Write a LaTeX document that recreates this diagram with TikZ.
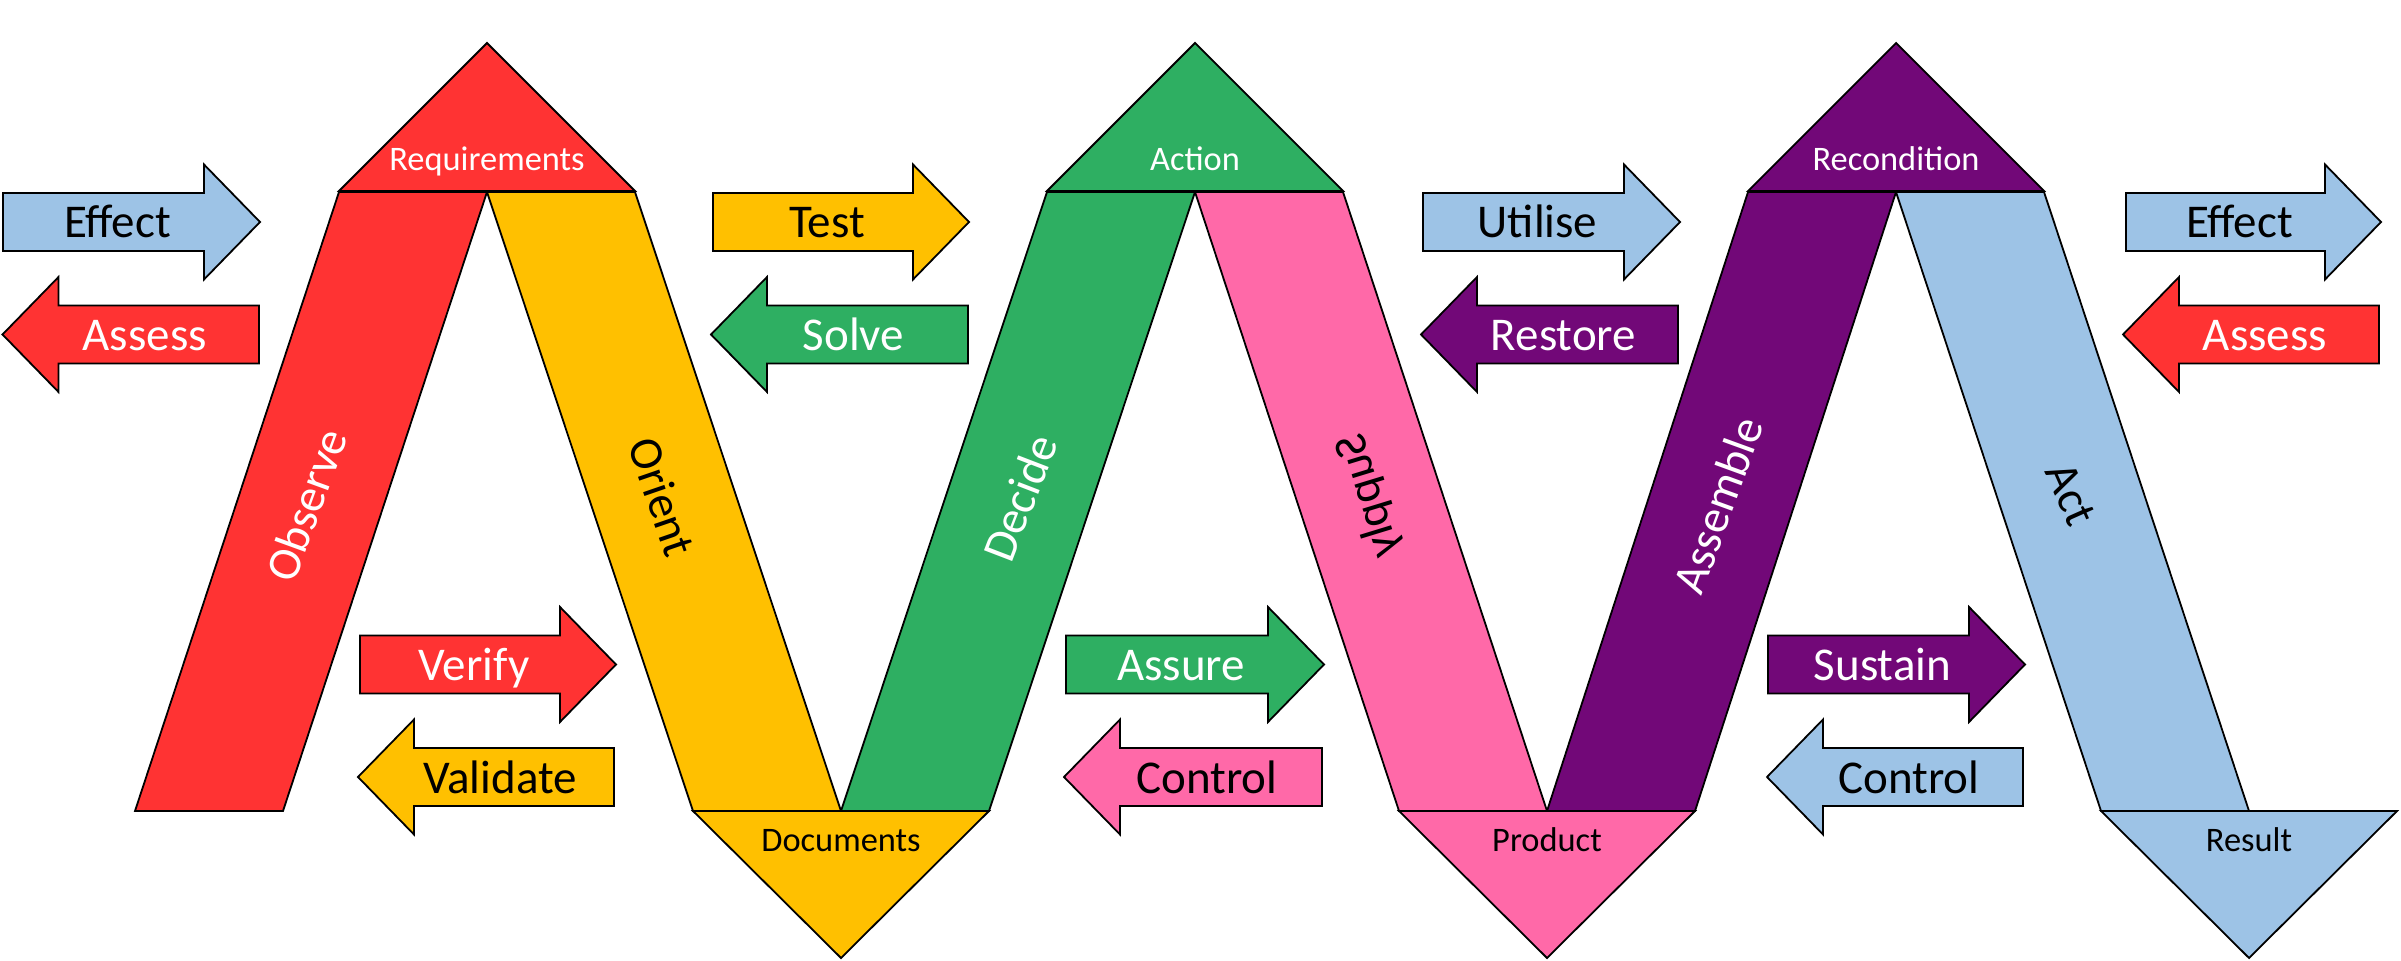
\documentclass[tikz,border=0pt]{standalone}
\usepackage{fontspec}
\setmainfont{Carlito}
\definecolor{cred}{RGB}{255,51,51}
\definecolor{cyel}{RGB}{255,192,0}
\definecolor{cgrn}{RGB}{46,175,98}
\definecolor{cpnk}{RGB}{255,105,168}
\definecolor{cpur}{RGB}{114,8,120}
\definecolor{cblu}{RGB}{157,195,230}
\tikzset{
  outl/.style={draw=black, line width=0.9pt, line join=miter},
  arrtxt/.style={anchor=base, inner sep=0pt, font=\fontsize{23.5}{28}\selectfont},
  bandtxt/.style={anchor=center, inner sep=0pt, font=\fontsize{23.5}{28}\selectfont},
  tritxt/.style={anchor=base, inner sep=0pt, font=\fontsize{17.2}{20}\selectfont}
}
% right arrow: xL, xTip, yc, fill, textcolor, name, text
\newcommand\RArr[7]{%
  \path[outl, fill=#4] (#1,#3-29) -- (#2-56,#3-29) -- (#2-56,#3-57.5) -- (#2,#3)
     -- (#2-56,#3+57.5) -- (#2-56,#3+29) -- (#1,#3+29) -- cycle;
  \node[arrtxt, text=#5] (#6) at ({(#1+#2)/2-14},{#3+16}) {#7};}
% left arrow: xTip, xR, yc, fill, textcolor, name, text
\newcommand\LArr[7]{%
  \path[outl, fill=#4] (#1,#3) -- (#1+56,#3-57.5) -- (#1+56,#3-29) -- (#2,#3-29)
     -- (#2,#3+29) -- (#1+56,#3+29) -- (#1+56,#3+57.5) -- cycle;
  \node[arrtxt, text=#5] (#6) at ({(#1+#2)/2+14},{#3+16}) {#7};}
\begin{document}
\begin{tikzpicture}[x=0.5pt, y=-0.5pt]
\useasboundingbox (0,0) rectangle (2401,961);
\fill[white] (0,0) rectangle (2401,961);

% ---- bands ----
\path[outl, fill=cred] (339,192) -- (487,192) -- (283,811) -- (135,811) -- cycle;
\path[outl, fill=cyel] (487,192) -- (635,192) -- (841,811) -- (693,811) -- cycle;
\path[outl, fill=cgrn] (1047,192) -- (1195,192) -- (989,811) -- (841,811) -- cycle;
\path[outl, fill=cpnk] (1195,192) -- (1343,192) -- (1547,811) -- (1399,811) -- cycle;
\path[outl, fill=cpur] (1748,192) -- (1896,192) -- (1695,811) -- (1547,811) -- cycle;
\path[outl, fill=cblu] (1896,192) -- (2044,192) -- (2249,811) -- (2101,811) -- cycle;

% ---- top triangles ----
\path[outl, fill=cred] (487,43) -- (635,191) -- (339,191) -- cycle;
\path[outl, fill=cgrn] (1195,43) -- (1343,191) -- (1047,191) -- cycle;
\path[outl, fill=cpur] (1896,43) -- (2044,191) -- (1748,191) -- cycle;

% ---- bottom triangles ----
\path[outl, fill=cyel] (693,811) -- (989,811) -- (841,958) -- cycle;
\path[outl, fill=cpnk] (1399,811) -- (1695,811) -- (1547,958) -- cycle;
\path[outl, fill=cblu] (2101,811) -- (2397,811) -- (2249,958) -- cycle;

% ---- triangle labels ----
\node[tritxt, text=white] (req) at (487,171) {Requirements};
\node[tritxt, text=white] (act) at (1195,171) {Action};
\node[tritxt, text=white] (rec) at (1896,171) {Recondition};
\node[tritxt, text=black] (doc) at (841,851) {Documents};
\node[tritxt, text=black] (prod) at (1547,851) {Product};
\node[tritxt, text=black] (res) at (2249,851) {Result};

% ---- band labels ----
\node[bandtxt, text=white, rotate=70] (obs) at (306,505) {Observe};
\node[bandtxt, text=black, rotate=-71] (ori) at (662,497) {Orient};
\node[bandtxt, text=white, rotate=69] (dec) at (1020,498) {Decide};
\node[bandtxt, text=black, rotate=-73, yscale=-1] (sup) at (1369,496) {Supply};
\node[bandtxt, text=white, rotate=70] (ass) at (1718,505) {Assemble};
\node[bandtxt, text=black, rotate=-66] (actb) at (2071,494) {Act};

% ---- block arrows ----
\RArr{3}{260}{222}{cblu}{black}{eff1}{Effect}
\LArr{2.5}{259}{334.5}{cred}{white}{ass1}{Assess}
\RArr{713}{969}{222}{cyel}{black}{test}{Test}
\LArr{711}{968}{334.5}{cgrn}{white}{solve}{Solve}
\RArr{1423}{1680}{222}{cblu}{black}{util}{Utilise}
\LArr{1421}{1678}{334.5}{cpur}{white}{rest}{Restore}
\RArr{2126}{2381}{222}{cblu}{black}{eff2}{Effect}
\LArr{2123}{2379}{334.5}{cred}{white}{ass2}{Assess}

\RArr{360}{616}{664.5}{cred}{white}{ver}{Verify}
\LArr{358}{614}{777}{cyel}{black}{val}{Validate}
\RArr{1066}{1324}{664.5}{cgrn}{white}{assu}{Assure}
\LArr{1064}{1322}{777}{cpnk}{black}{ctl1}{Control}
\RArr{1768}{2025}{664.5}{cpur}{white}{sus}{Sustain}
\LArr{1767}{2023}{777}{cblu}{black}{ctl2}{Control}
\end{tikzpicture}
\end{document}
